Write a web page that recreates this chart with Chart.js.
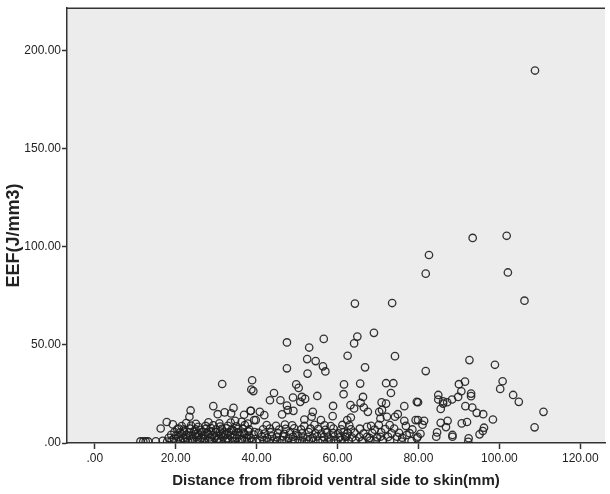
<!DOCTYPE html>
<html>
<head>
<meta charset="utf-8">
<script src="https://cdn.jsdelivr.net/npm/chart.js@4.4.1/dist/chart.umd.min.js"></script>
<style>
body{margin:0;background:#fff;}
#wrap{width:610px;height:494px;}
</style>
</head>
<body>
<div id="wrap"><canvas id="mainChart" width="610" height="494"></canvas></div>
<script>
// scattered cases
const spreadDistance=[
  108.8,93.4,101.8,82.6,81.8,102.1,106.2,64.3,73.5,69.0,
  64.9,64.1,56.6,47.5,53.0,62.5,74.2,52.5,54.6,92.6,
  98.9,81.8,47.5,56.4,57.0,52.6,66.8,38.9,39.2,38.7,
  31.5,49.8,50.4,61.6,65.6,72.0,73.8,73.2,100.8,100.2,
  90.0,91.5,90.6,89.8,88.3,87.1,86.1,84.9,84.9,85.5,
  86.1,93.0,93.0,91.6,93.3,94.4,96.0,98.4,92.0,90.7,
  87.2,85.5,86.8,96.2,95.9,95.1,88.4,88.4,84.6,84.4,
  92.4,81.4,79.9,79.9,79.8,103.4,104.8,110.9,108.7,44.3,
  43.3,45.9,49.0,51.2,52.0,50.8,55.0,61.5,66.3,65.7,
  63.2,64.1,66.5,58.9,47.5,47.7,70.9,72.0,76.5,79.6,
  38.6,40.8,41.9,46.3,49.1,53.9,53.6,58.8,63.3,67.5,
  70.3,71.0,72.2,74.2,74.9,70.6,79.3,76.5,39.4,55.9,
  51.8,62.4,67.3,74.7,77.1,79.6,67.3,70.6,62.2,29.3,
  23.7,23.4,32.1,34.3,30.4,33.7,36.9,38.5,17.8,19.3,
  16.3,20.8,34.7,36.3,39.8,11.3,12.0,12.6,13.2,15.1
];
const spreadEef=[
  190.0,104.6,105.7,95.9,86.4,87.0,72.6,71.1,71.4,56.2,
  54.3,50.8,53.1,51.3,48.7,44.5,44.3,42.8,41.8,42.3,
  39.9,36.7,38.1,39.1,36.5,35.4,38.6,32.0,26.5,27.3,
  30.1,29.9,28.1,29.9,30.3,30.5,30.5,25.5,31.5,27.6,
  30.0,31.3,26.4,23.5,22.2,20.8,20.1,24.5,22.2,17.4,
  21.3,25.2,23.9,18.8,18.1,15.4,14.7,12.0,10.7,10.0,
  11.3,10.3,8.1,7.8,6.1,4.4,4.1,3.2,5.4,3.2,
  2.4,11.3,11.7,20.8,3.2,24.5,21.0,15.9,8.0,25.5,
  21.8,21.8,23.2,23.5,22.5,21.0,24.0,24.9,23.5,20.5,
  19.3,17.6,18.1,18.9,19.1,16.8,20.7,20.1,18.8,21.0,
  16.4,15.9,14.2,14.6,16.4,15.9,13.4,13.7,13.0,15.9,
  15.9,16.8,13.4,13.4,14.7,12.5,11.7,11.3,11.7,11.7,
  12.0,11.7,8.3,3.2,4.1,2.4,3.2,3.2,3.2,18.8,
  16.6,13.4,15.6,17.9,14.7,15.1,14.4,16.4,10.7,9.5,
  7.4,7.4,11.3,10.8,11.7,0.8,0.8,0.8,0.8,0.9
];

// crowded band near the x axis (estimated, the circles overlap)
const bandDistance=[
  16.8,17.9,19.0,20.2,21.1,22.3,23.0,24.1,25.2,26.0,27.1,28.3,29.0,30.2,31.1,32.4,33.0,34.2,35.5,36.3,37.6,38.8,39.9,
  18.3,19.6,20.7,21.9,22.8,24.0,25.1,26.3,27.2,28.4,29.6,30.5,31.7,32.8,34.0,35.1,36.4,37.5,38.6,
  18.9,20.1,21.5,22.6,23.6,24.8,25.7,26.9,28.0,29.1,30.1,31.2,32.3,33.5,34.6,35.8,37.0,38.1,39.3,
  19.7,21.0,22.1,23.3,24.5,25.5,26.6,27.8,28.8,29.9,31.0,32.0,33.2,34.4,35.5,36.8,38.0,39.5,
  20.4,22.0,23.5,24.9,26.2,27.5,28.7,30.0,31.4,32.6,33.9,35.3,36.6,38.2,
  21.5,23.8,25.6,27.4,29.3,31.0,32.9,35.0,37.1,
  22.6,25.0,28.1,30.8,33.6,37.8,
  40.8,41.9,43.0,44.2,45.1,46.3,47.4,48.6,49.5,50.7,51.8,52.9,54.0,55.2,56.3,57.5,58.4,59.6,60.8,61.7,
  41.3,42.6,43.8,45.0,46.6,47.9,49.0,50.3,51.5,52.6,53.9,55.0,56.6,57.8,59.2,60.5,61.9,
  40.5,42.0,43.5,45.3,46.8,48.3,49.8,51.2,52.9,54.5,56.0,57.4,58.9,60.2,61.5,
  41.6,43.3,45.6,47.2,49.3,51.0,53.3,55.2,57.0,59.0,60.9,
  42.5,44.8,47.0,48.8,51.8,54.3,56.8,58.3,61.2,
  62.8,64.5,66.0,68.1,69.4,71.2,73.0,75.8,78.3,92.3,
  63.6,65.4,67.9,69.8,72.5,76.0,
  62.5,64.2,66.4,68.6,70.8,73.4,75.2,77.8,80.5,
  63.3,65.5,69.2,71.8,74.0,78.5,
  62.9,68.3,70.2,72.9,76.9,81.0
];
const bandEef=[
  1.1,0.7,1.4,0.9,1.3,0.6,1.2,1.0,0.8,1.5,0.9,1.2,0.7,1.4,1.0,0.8,1.3,1.1,0.6,1.4,0.9,1.2,0.8,
  2.6,2.2,2.9,2.4,2.7,2.1,3.0,2.5,2.3,2.8,2.6,2.2,2.9,2.4,2.7,2.5,2.1,2.8,2.4,
  4.2,3.8,4.5,4.0,3.7,4.4,4.1,3.9,4.6,4.0,3.8,4.3,4.5,3.9,4.2,4.0,4.6,3.8,4.3,
  5.6,5.3,5.9,5.4,5.8,5.2,5.7,5.5,6.0,5.4,5.8,5.3,5.6,6.1,5.5,5.2,5.9,5.6,
  7.1,6.8,7.4,7.0,6.7,7.3,7.6,6.9,7.2,7.5,6.8,7.1,7.4,6.9,
  8.6,8.9,8.3,8.7,9.0,8.4,8.8,8.5,9.1,
  10.2,9.8,10.5,10.0,10.4,9.9,
  1.0,1.4,0.7,1.2,0.9,1.5,1.1,0.8,1.3,1.0,0.6,1.4,1.1,0.9,1.3,0.7,1.2,1.0,1.5,0.8,
  3.1,2.7,3.4,2.9,3.3,2.6,3.2,3.5,2.8,3.1,2.7,3.4,3.0,2.8,3.3,2.9,3.2,
  5.2,4.8,5.5,5.0,4.7,5.4,5.1,4.9,5.6,5.0,4.8,5.3,5.1,4.9,5.4,
  7.0,7.4,6.8,7.2,7.5,6.9,7.3,7.1,6.7,7.4,7.0,
  9.1,8.8,9.4,9.0,8.7,9.3,9.0,8.6,9.2,
  1.0,1.3,0.8,1.2,0.9,1.4,1.1,0.7,1.0,0.6,
  2.8,3.0,2.6,2.9,3.1,2.7,
  5.0,5.3,4.8,5.1,5.4,4.9,5.2,5.0,4.7,
  7.0,7.3,6.8,7.1,7.4,6.9,
  9.0,8.8,9.2,9.1,8.7,9.3
];

const xTickValues=[0,20,40,60,80,100,120];
const xTickLabels=['.00','20.00','40.00','60.00','80.00','100.00','120.00'];
const yTickValues=[0,50,100,150,200];
const yTickLabels=['.00','50.00','100.00','150.00','200.00'];

const distance=spreadDistance.concat(bandDistance);
const eef=spreadEef.concat(bandEef);
const points=distance.map((d,i)=>({x:d,y:eef[i]}));

// grey plot area + top frame line
const plotFrame={
  id:'plotFrame',
  beforeDraw(chart){
    const {ctx,chartArea:a}=chart;
    ctx.save();
    ctx.fillStyle='#ececec';
    ctx.fillRect(a.left,a.top,a.right-a.left,a.bottom-a.top);
    ctx.restore();
  },
  afterDraw(chart){
    const {ctx,chartArea:a}=chart;
    ctx.save();
    ctx.strokeStyle='#333';
    ctx.lineWidth=1.5;
    ctx.beginPath();
    ctx.moveTo(a.left,a.top);
    ctx.lineTo(a.right,a.top);
    ctx.stroke();
    ctx.restore();
  }
};

const tickFont={family:'Arial',size:12};

const ctx=document.getElementById('mainChart').getContext('2d');
window.myChart=new Chart(ctx,{
  type:'scatter',
  data:{
    datasets:[{
      label:'EEF',
      data:points,
      pointRadius:3.7,
      pointHoverRadius:3.7,
      pointBorderWidth:1.3,
      borderColor:'rgba(30,30,30,0.9)',
      backgroundColor:'rgba(0,0,0,0)'
    }]
  },
  options:{
    responsive:false,
    animation:false,
    layout:{padding:{top:6,left:0,right:0,bottom:0}},
    plugins:{legend:{display:false},tooltip:{enabled:false}},
    scales:{
      x:{
        type:'linear',
        min:-6.85,
        max:126.1,
        afterFit(s){s.height=51;},
        afterBuildTicks(s){s.ticks=xTickValues.map(v=>({value:v}));},
        ticks:{
          callback:v=>xTickLabels[xTickValues.indexOf(v)],
          font:tickFont,color:'#222',padding:2,maxRotation:0,autoSkip:false
        },
        grid:{drawOnChartArea:false,tickLength:6,tickColor:'#333',tickWidth:1.5},
        border:{color:'#333',width:1.5},
        title:{
          display:true,
          text:'Distance from fibroid ventral side to skin(mm)',
          font:{family:'Arial',size:15,weight:'bold'},
          color:'#222',
          padding:{top:0,bottom:4}
        }
      },
      y:{
        type:'linear',
        min:0,
        max:221.8,
        afterFit(s){s.width=67;},
        afterBuildTicks(s){s.ticks=yTickValues.map(v=>({value:v}));},
        ticks:{
          callback:v=>yTickLabels[yTickValues.indexOf(v)],
          font:tickFont,color:'#222',padding:1
        },
        grid:{drawOnChartArea:false,tickLength:5,tickColor:'#333',tickWidth:1.5},
        border:{color:'#333',width:1.5},
        title:{
          display:true,
          text:'EEF(J/mm3)    ',
          font:{family:'Arial',size:18,weight:'bold'},
          color:'#222',
          padding:{top:3,bottom:0}
        }
      }
    }
  },
  plugins:[plotFrame]
});
</script>
</body>
</html>
